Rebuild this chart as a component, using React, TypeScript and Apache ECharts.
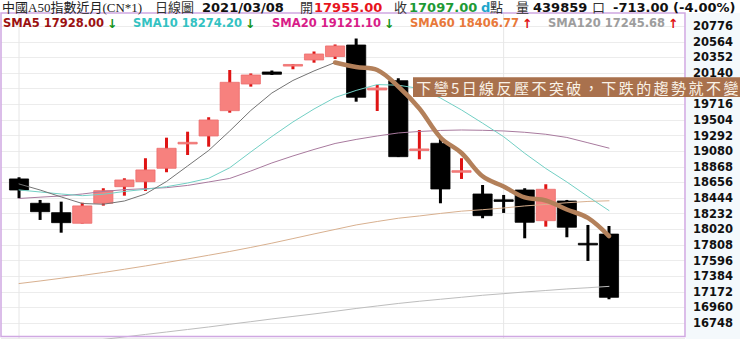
import React, { useEffect, useRef } from "react";
import * as echarts from "echarts";

// Daily bars, China A50 front-month futures
const dates = [
  "2021/01/26", "2021/01/27", "2021/01/28", "2021/01/29", "2021/02/01", "2021/02/02",
  "2021/02/03", "2021/02/04", "2021/02/05", "2021/02/08", "2021/02/09", "2021/02/10",
  "2021/02/11", "2021/02/15", "2021/02/16", "2021/02/17", "2021/02/18", "2021/02/19",
  "2021/02/22", "2021/02/23", "2021/02/24", "2021/02/25", "2021/02/26", "2021/03/01",
  "2021/03/02", "2021/03/03", "2021/03/04", "2021/03/05", "2021/03/08",
];
const opens = [
  18703, 18373, 18246, 18102, 18373, 18598, 18666, 18848, 19178, 19286, 19629, 19991,
  20154, 20235, 20317, 20364, 20520, 19910, 20036, 19092, 19187, 18802, 18499, 18420,
  18553, 18137, 18404, 17830, 17955,
];
const closes = [
  18553, 18259, 18110, 18337, 18544, 18689, 18825, 19119, 19200, 19503, 20014, 20113,
  20123, 20256, 20398, 20507, 19811, 19937, 19005, 19110, 18567, 18815, 18205, 18412,
  18115, 18563, 18048, 17810, 17097,
];
const lows = [
  18441, 18147, 17974, 18098, 18341, 18476, 18540, 18794, 19028, 19141, 19602, 19955,
  20113, 20191, 20280, 20330, 19751, 19625, 19000, 18970, 18373, 18703, 18170, 18242,
  17898, 18056, 17912, 17591, 17071,
];
const highs = [
  18726, 18418, 18395, 18381, 18577, 18712, 18984, 19263, 19344, 19540, 20181, 20134,
  20174, 20262, 20432, 20527, 20608, 19978, 20069, 19367, 19276, 18984, 18621, 18486,
  18577, 18631, 18418, 18079, 18065,
];

// Moving averages
const sma5 = [
  18635, 18553, 18459, 18370, 18360, 18404, 18499, 18669, 18879, 19089, 19354, 19632,
  19869, 20039, 20168, 20283, 20222, 20181, 19957, 19659, 19266, 19055, 18739, 18601,
  18452, 18411, 18289, 18174, 17928,
];
const sma10 = [
  18554, 18526, 18499, 18476, 18495, 18533, 18563, 18598, 18648, 18712, 18855, 19069,
  19279, 19476, 19652, 19808, 19904, 19983, 19975, 19930, 19801, 19639, 19460, 19276,
  19051, 18845, 18662, 18464, 18274.2,
];
const sma20 = [
  18438, 18456, 18472, 18499, 18533, 18558, 18571, 18585, 18615, 18662, 18710, 18811,
  18920, 19015, 19103, 19184, 19239, 19286, 19327, 19347, 19361, 19367, 19363, 19354,
  19336, 19309, 19266, 19194, 19121.1,
];
const sma60 = [
  17284, 17319, 17356, 17394, 17434, 17478, 17523, 17570, 17618, 17668, 17719, 17774,
  17832, 17894, 17957, 18018, 18079, 18126, 18170, 18201, 18235, 18266, 18286, 18309,
  18337, 18357, 18380, 18398, 18406.77,
];
const sma120 = [
  16390, 16424, 16458, 16492, 16526, 16560, 16594, 16627, 16661, 16695, 16732, 16767,
  16804, 16838, 16872, 16908, 16946, 16980, 17014, 17044, 17071, 17098, 17125, 17147,
  17170, 17190, 17211, 17227, 17245.68,
];

// Price scale (right axis)
const priceMin = 16536;
const priceMax = 20988;
const priceStep = 212;
// tick label that sits behind the note banner
const coveredTick = 19928;

const volume = 439859;
const title = "中國A50指數近月(CN*1)";
const chartKind = "日線圖";
const note = "下彎5日線反壓不突破，下跌的趨勢就不變";
const dividerDates = ["2021/01/26", "2021/03/01"];
const highlightFrom = "2021/02/17";

const NUM_FONT = "'DejaVu Sans', Verdana, sans-serif";
const CJK_FONT = "'Liberation Serif', 'Noto Sans CJK TC', serif";
const NOTE_FONT = "'Noto Sans CJK TC', sans-serif";

export default function App() {
  const ref = useRef<HTMLDivElement>(null);

  useEffect(() => {
    const el = ref.current;
    if (!el) return;
    const chart = echarts.init(el, null, { renderer: "svg" });

    const n = dates.length;
    const cats = [...dates, " ", "  ", "   "];
    const candleData = dates.map((_, i) => [i, opens[i], closes[i], lows[i], highs[i]]);
    const hiStart = dates.indexOf(highlightFrom);
    const highlight = sma5.map((v, i) => (i >= hiStart ? v : "-"));

    const renderCandle = (params: any, api: any) => {
      const i = api.value(0);
      const o = api.value(1);
      const c = api.value(2);
      const lo = api.value(3);
      const hi = api.value(4);
      const [x, yO] = api.coord([i, o]);
      const yC = api.coord([i, c])[1];
      const yL = api.coord([i, lo])[1];
      const yH = api.coord([i, hi])[1];
      const bw = api.size([1, 0])[0] * 0.91;
      const up = c >= o;
      const top = Math.min(yO, yC);
      const h = Math.max(Math.abs(yO - yC), 1.6);
      const children: any[] = [];
      if (dividerDates.includes(dates[i])) {
        const cs = params.coordSys;
        children.push({
          type: "line",
          shape: { x1: x, y1: cs.y, x2: x, y2: cs.y + cs.height },
          style: { stroke: "#e6e6e6", lineWidth: 1 },
        });
      }
      children.push({
        type: "line",
        shape: { x1: x, y1: yH, x2: x, y2: yL },
        style: { stroke: up ? "#df1414" : "#000000", lineWidth: 3 },
      });
      children.push({
        type: "rect",
        shape: { x: x - bw / 2, y: top, width: bw, height: h },
        style: {
          fill: up ? "#f7817e" : "#000000",
          stroke: up ? "#ec6c6c" : "#000000",
          lineWidth: 0.8,
        },
      });
      return { type: "group", children };
    };

    const smaLine = (data: any[], color: string, width = 1, z = 3, smooth: any = false) => ({
      type: "line",
      xAxisIndex: 1,
      yAxisIndex: 1,
      data,
      symbol: "none",
      smooth,
      silent: true,
      z,
      lineStyle: { color, width, cap: "round", join: "round" },
    });

    // header row
    const lastO = opens[n - 1];
    const lastC = closes[n - 1];
    const prevC = closes[n - 2];
    const chg = lastC - prevC;
    const pct = (chg / prevC) * 100;
    const hy = 7.5;
    const cjk = `13px ${CJK_FONT}`;
    const num = `bold 13px ${NUM_FONT}`;
    const headerItems = [
      { text: title, x: 2, font: cjk, fill: "#222" },
      { text: chartKind, x: 155, font: cjk, fill: "#333" },
      { text: dates[n - 1], x: 202, font: num, fill: "#111" },
      { text: "開", x: 300, font: cjk, fill: "#333" },
      { text: lastO.toFixed(2), x: 314, font: num, fill: "#e8141c" },
      { text: "收", x: 394, font: cjk, fill: "#333" },
      { text: lastC.toFixed(2), x: 409, font: num, fill: "#1d9a35" },
      { text: "d", x: 481, font: num, fill: "#1ea6cc" },
      { text: "點", x: 490, font: cjk, fill: "#333" },
      { text: "量", x: 516, font: cjk, fill: "#333" },
      { text: String(volume), x: 533, font: num, fill: "#111" },
      { text: "口", x: 592, font: cjk, fill: "#333" },
      { text: `${chg.toFixed(2)} (${pct.toFixed(2)}%)`, x: 613, font: num, fill: "#111" },
    ];

    // moving-average legend row
    const smaSets = [
      { name: "SMA5", data: sma5, color: "#9b1111" },
      { name: "SMA10", data: sma10, color: "#33c2c2" },
      { name: "SMA20", data: sma20, color: "#d81c88" },
      { name: "SMA60", data: sma60, color: "#e8793a" },
      { name: "SMA120", data: sma120, color: "#9d9d9d" },
    ];
    const legendX = [3, 133, 272, 410, 548];
    const legendItems = smaSets.map((s, k) => {
      const last = s.data[s.data.length - 1];
      const prev = s.data[s.data.length - 2];
      const rising = last >= prev;
      return {
        type: "text",
        x: legendX[k],
        y: 23,
        z: 60,
        style: {
          text: `{t|${s.name} ${last.toFixed(2)}}{a|${rising ? "↑" : "↓"}}`,
          textVerticalAlign: "middle",
          rich: {
            t: { fill: s.color, font: `bold 11.5px ${NUM_FONT}` },
            a: {
              fill: rising ? "#e01414" : "#15951a",
              font: `bold 12.5px ${NUM_FONT}`,
              padding: [0, 0, 0, 3],
            },
          },
        },
      };
    });

    // annotation banner
    const noteEls: any[] = [];
    let cx = 415;
    for (const ch of Array.from(note)) {
      const adv = /[0-9A-Za-z]/.test(ch) ? 10.5 : 17.45;
      noteEls.push({
        type: "text",
        x: cx + adv / 2,
        y: 87.3,
        z: 71,
        style: {
          text: ch,
          fill: "#f9f2e7",
          font: `15px ${NOTE_FONT}`,
          textAlign: "center",
          textVerticalAlign: "middle",
        },
      });
      cx += adv;
    }

    const option: any = {
      animation: false,
      backgroundColor: "#ffffff",
      grid: [
        { left: 1, right: 55, top: 10.5, bottom: 0.3, show: false },
        { left: 8.5, right: 57.26, top: 10.5, bottom: 0.3, show: false },
      ],
      xAxis: [
        { type: "category", gridIndex: 0, data: cats, show: false },
        { type: "category", gridIndex: 1, data: cats, show: false, boundaryGap: true },
      ],
      yAxis: [
        {
          type: "value",
          gridIndex: 0,
          position: "right",
          min: priceMin,
          max: priceMax,
          interval: priceStep,
          axisLine: { show: false },
          axisTick: { show: false },
          axisLabel: {
            margin: 8,
            showMinLabel: false,
            showMaxLabel: false,
            color: "#111",
            fontFamily: NUM_FONT,
            fontWeight: "bold",
            fontSize: 11.5,
            formatter: (v: number) => (v === coveredTick ? "" : String(v)),
          },
          splitLine: { lineStyle: { color: "#ececec", width: 1 } },
        },
        {
          type: "value",
          gridIndex: 1,
          min: priceMin,
          max: priceMax,
          interval: priceStep,
          show: false,
          splitLine: { show: false },
        },
      ],
      series: [
        {
          type: "custom",
          xAxisIndex: 1,
          yAxisIndex: 1,
          data: candleData,
          encode: { x: 0, y: [1, 2, 3, 4] },
          renderItem: renderCandle,
          silent: true,
          z: 2,
        },
        smaLine(sma120, "#bdbdbd"),
        smaLine(sma60, "#d8b08f"),
        smaLine(sma20, "#a87a9e"),
        smaLine(sma10, "#72cfc4"),
        smaLine(sma5, "#747474"),
        smaLine(highlight, "#b3805a", 4.5, 5, 0.35),
      ],
      graphic: {
        elements: [
          {
            type: "rect",
            shape: { x: 686, y: 13, width: 54, height: 326 },
            style: { fill: "#f4f9fc" },
            z: -5,
          },
          {
            type: "rect",
            shape: { x: 0, y: 0, width: 740, height: 12.5 },
            style: { fill: "#ffffff" },
            z: 40,
          },
          {
            type: "rect",
            shape: { x: 1, y: 13, width: 684, height: 323.5 },
            style: { fill: "none", stroke: "#d0a8e2", lineWidth: 1.5 },
            z: 45,
          },
          ...headerItems.map((h) => ({
            type: "text",
            x: h.x,
            y: hy,
            z: 60,
            style: { text: h.text, font: h.font, fill: h.fill, textVerticalAlign: "middle" },
          })),
          ...legendItems,
          {
            type: "rect",
            shape: { x: 413, y: 77.3, width: 327, height: 19.6 },
            style: { fill: "#a9714d" },
            z: 70,
          },
          ...noteEls,
        ],
      },
    };

    chart.setOption(option);
    return () => chart.dispose();
  }, []);

  return (
    <div
      ref={ref}
      style={{ position: "fixed", left: 0, top: 0, width: 740, height: 339, background: "#fff" }}
    />
  );
}
